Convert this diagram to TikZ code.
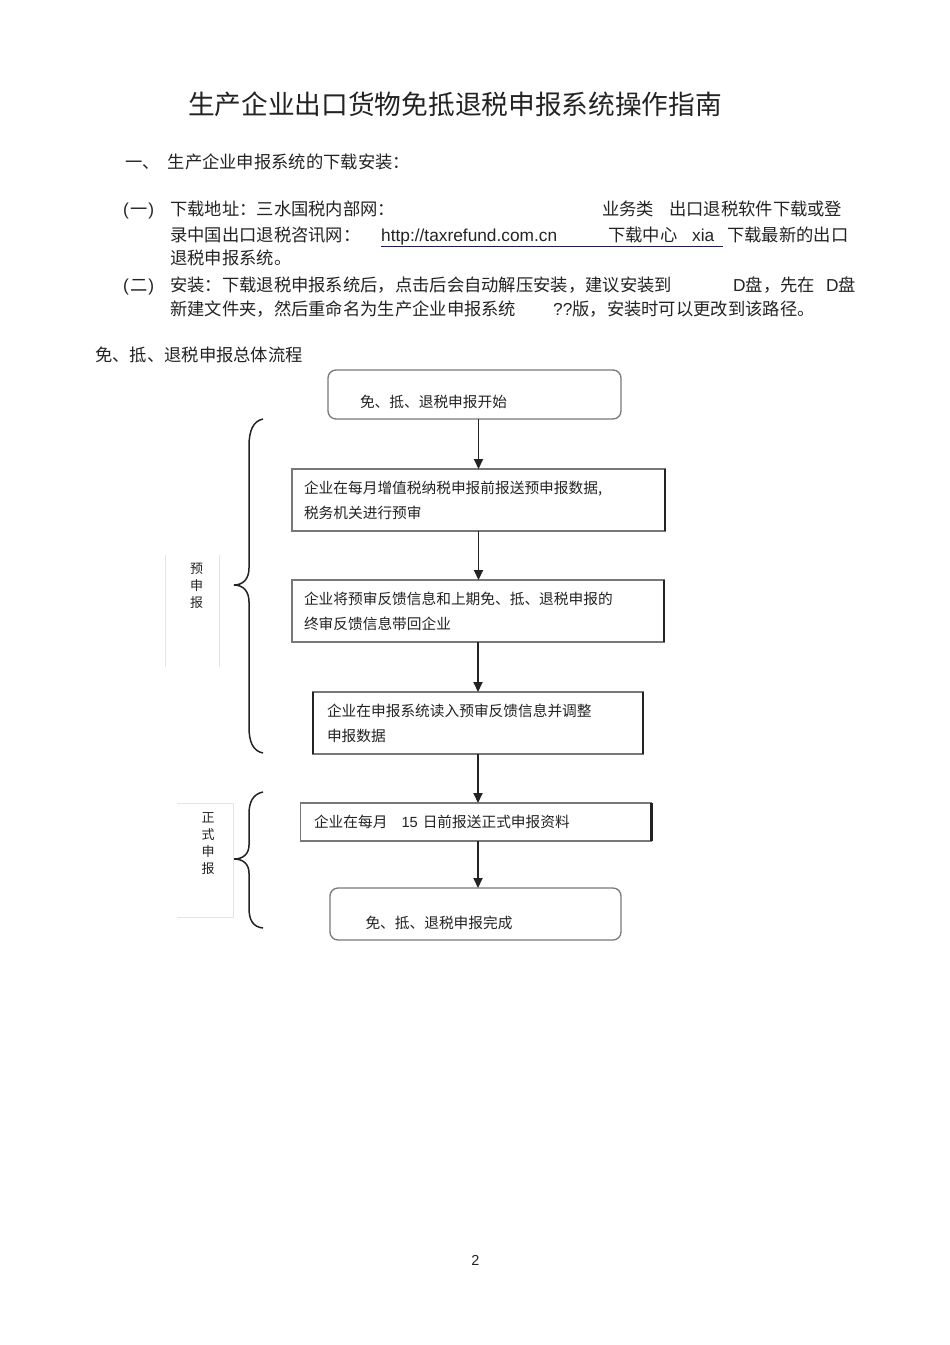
\documentclass[tikz,border=0pt]{standalone}
\usepackage{fontspec}
\setmainfont{Noto Sans CJK SC}
\newfontfamily\latinfont{Liberation Sans}
\usetikzlibrary{arrows.meta,positioning}
\definecolor{inkgray}{RGB}{35,35,35}
\definecolor{boxgray}{RGB}{120,120,120}
\definecolor{linkblue}{RGB}{25,25,110}
\definecolor{framegray}{RGB}{228,228,228}

\begin{document}
\begin{tikzpicture}[x=1pt,y=-1pt,
    title/.style={anchor=base,inner sep=0pt,text=inkgray,font=\fontsize{26.7}{30}\selectfont},
    body/.style={anchor=base west,inner sep=0pt,text=inkgray,font=\fontsize{17.3}{20}\selectfont},
    latin/.style={body,font=\fontsize{17.3}{20}\selectfont\latinfont},
    flowbox/.style={rectangle,draw=boxgray,line width=1.3pt,outer sep=0pt,align=left,inner ysep=0pt,
      text=inkgray,font=\fontsize{14.7}{25}\selectfont,
      append after command={(\tikzlastnode.north east) edge[draw=inkgray,line width=2.6pt] (\tikzlastnode.south east)}},
    endbox/.style={rectangle,rounded corners=8pt,draw=boxgray,line width=1.3pt,outer sep=0pt,align=left,
      inner ysep=0pt,text depth=4pt,text=inkgray,font=\fontsize{14.7}{25}\selectfont},
    leftedge/.style={append after command={(\tikzlastnode.north west) edge[draw=inkgray,line width=2.6pt] (\tikzlastnode.south west)}},
    sidelabel/.style={align=center,inner sep=0pt,text=inkgray,font=\fontsize{13}{17}\selectfont},
    arrow/.style={-{Triangle[length=10pt,width=9pt]},draw=inkgray,line width=1.8pt},
    bracket/.style={draw=inkgray,line width=1.5pt},
    frame/.style={draw=framegray,line width=1pt}
  ]
    \useasboundingbox[fill=white] (0,0) rectangle (950,1345);

    % page text
    \node[title] (heading) at (455,114) {生产企业出口货物免抵退税申报系统操作指南};
    \node[body] (part1) at (125,168) {一、\hspace{8pt}生产企业申报系统的下载安装：};
    \node[body] (item1) at (123,215.5) {{\latinfont(}\hspace{2pt}一{\latinfont)}};
    \node[body] (addr) at (170,215.5) {下载地址：三水国税内部网：};
    \node[body] (bizcat) at (602,215.5) {业务类};
    \node[body] (softdl) at (669,215.5) {出口退税软件下载或登};
    \node[body] (site) at (170,241.5) {录中国出口退税咨讯网：};
    \node[latin] (url) at (381,241.5) {http://taxrefund.com.cn};
    \node[body] (dlcenter) at (608,241.5) {下载中心};
    \node[latin] (xia) at (692,241.5) {xia};
    \node[body] (newest) at (727,241.5) {下载最新的出口};
    \node[body] (sysname) at (170,264.5) {退税申报系统。};
    \node[body] (item2) at (123,291) {{\latinfont(}\hspace{2pt}二{\latinfont)}};
    \node[body] (install) at (170,291) {安装：下载退税申报系统后，点击后会自动解压安装，建议安装到};
    \node[body] (drive1) at (733,291) {{\latinfont D}盘，先在};
    \node[body] (drive2) at (826,291) {{\latinfont D}盘};
    \node[body] (folder) at (170,315) {新建文件夹，然后重命名为生产企业申报系统};
    \node[body] (version) at (553,315) {{\latinfont ??}版，安装时可以更改到该路径。};
    \node[body] (flowhead) at (95,361.5) {免、抵、退税申报总体流程};
    \draw[draw=linkblue,line width=1pt] ([yshift=-5pt]url.base west) -- ([xshift=8pt,yshift=-5pt]url.base west -| xia.east);

    % flow chart
    \node[endbox,text width=229pt,inner xsep=32pt,minimum height=49pt,text height=29pt] (start) at (474.5,394.5) {免、抵、退税申报开始};
    \node[flowbox,text width=349pt,inner xsep=12pt,minimum height=62pt,below=50pt of start,xshift=4pt] (predata)
      {企业在每月增值税纳税申报前报送预申报数据,\\税务机关进行预审};
    \node[flowbox,text width=348pt,inner xsep=12pt,minimum height=62pt,below=49pt of predata,xshift=-0.5pt] (feedback)
      {企业将预审反馈信息和上期免、抵、退税申报的\\终审反馈信息带回企业};
    \node[flowbox,leftedge,text width=302pt,inner xsep=14pt,minimum height=62pt,below=50pt of feedback] (adjust)
      {企业在申报系统读入预审反馈信息并调整\\申报数据};
    \node[flowbox,text width=324pt,inner xsep=13.5pt,minimum height=38pt,below=49pt of adjust,xshift=-2pt] (formal)
      {企业在每月\hspace{14pt}{\latinfont 15} 日前报送正式申报资料};
    \node[endbox,text width=220pt,inner xsep=35.5pt,minimum height=52pt,text height=33pt,below=47pt of formal,xshift=-0.5pt] (finish)
      {免、抵、退税申报完成};

    \draw[arrow] (start.south -| predata.north) -- (predata.north);
    \draw[arrow] (predata.south) -- (predata.south |- feedback.north);
    \draw[arrow] (feedback.south) -- (feedback.south |- adjust.north);
    \draw[arrow] (adjust.south) -- (adjust.south |- formal.north);
    \draw[arrow] (formal.south -| adjust.south) -- (finish.north -| adjust.south);

    % braces and side labels
    \draw[bracket] (263,419) .. controls (253,421) and (249,431) .. (249,446) -- (249,568)
      .. controls (249,579) and (243,585) .. (234,585) .. controls (243,585) and (249,591) .. (249,602)
      -- (249,727) .. controls (249,742) and (253,751) .. (263,753);
    \draw[bracket] (263,792) .. controls (253,794) and (249,802) .. (249,814) -- (249,845)
      .. controls (249,854) and (243,859) .. (234,859) .. controls (243,859) and (249,864) .. (249,873)
      -- (249,908) .. controls (249,920) and (253,927) .. (263,928);
    \node[sidelabel] (prelabel) at (196.5,586) {预\\申\\报};
    \node[sidelabel] (formlabel) at (208,844) {正\\式\\申\\报};
    \draw[frame] (165,555) -- (165,667);
    \draw[frame] (219,555) -- (219,667);
    \draw[frame] (177,803) -- (233,803) -- (233,917) -- (177,917);

    \node[anchor=base,inner sep=0pt,text=inkgray,font=\fontsize{14.5}{17}\selectfont\latinfont] (pagenum) at (475.5,1265) {2};
\end{tikzpicture}
\end{document}
